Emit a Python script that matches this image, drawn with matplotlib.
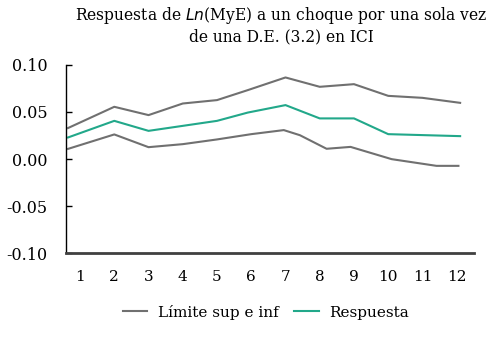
import numpy as np
from matplotlib import pyplot as plt

# datos
pasos = [1, 2, 3, 4, 5, 6, 7, 8, 9, 10, 11, 12]
x_lineas = [0.65, 2, 3, 4, 5, 5.9, 7, 8, 9, 10, 11, 12.1]
limite_sup = [0.033, 0.0555, 0.0467, 0.059, 0.0626, 0.0732, 0.0866, 0.0767, 0.0795, 0.0671, 0.065, 0.0597]
respuesta = [0.023, 0.0406, 0.030, 0.0353, 0.0406, 0.0494, 0.0573, 0.0432, 0.0432, 0.0265, 0.0255, 0.0244]
x_inf = [0.65, 2, 3, 4, 5, 6, 6.95, 7.42, 8.2, 8.9, 10.1, 11.41, 12.05]
limite_inf = [0.0109, 0.0262, 0.0127, 0.0159, 0.0209, 0.0265, 0.0308, 0.0254, 0.011, 0.013, 0.000, -0.0071, -0.0071]
y_ticks = [-0.10, -0.05, 0.00, 0.05, 0.10]

gris = '#707070'
verde = '#22a88a'

plt.rcParams['font.family'] = ['DejaVu Serif']
plt.rcParams['axes.unicode_minus'] = False

fig = plt.figure(figsize=(4.9, 3.43), dpi=100)
ax = fig.add_axes([0.134, 0.261, 0.833, 0.550])

ax.plot(x_lineas, limite_sup, color=gris, lw=1.5, label='Límite sup e inf')
ax.plot(x_inf, limite_inf, color=gris, lw=1.5)
ax.plot(x_lineas, respuesta, color=verde, lw=1.5, label='Respuesta')

ax.set_xlim(0.58, 12.5)
ax.set_ylim(-0.10, 0.10)
ax.set_xticks(pasos)
ax.set_xticklabels([str(p) for p in pasos])
ax.set_yticks(y_ticks)
ax.set_yticklabels([f'{v:.2f}' for v in y_ticks])

ax.tick_params(axis='y', direction='in', length=4, width=1, labelsize=11.5, pad=13)
ax.tick_params(axis='x', length=0, labelsize=11, pad=12)

for s in ['top', 'right']:
    ax.spines[s].set_visible(False)
ax.spines['left'].set_color('black')
ax.spines['left'].set_linewidth(1)
ax.spines['bottom'].set_color('#404040')
ax.spines['bottom'].set_linewidth(2)

fig.text(0.574, 0.985, 'Respuesta de $\\it{Ln}$(MyE) a un choque por una sola vez\nde una D.E. (3.2) en ICI',
         ha='center', va='top', fontsize=11.2, linespacing=1.2)

fig.legend(loc='center', bbox_to_anchor=(0.543, 0.09), ncol=2, frameon=False,
           fontsize=11, handlelength=1.6, columnspacing=1.0, handletextpad=0.7)

fig.savefig('out.png', dpi=100)
